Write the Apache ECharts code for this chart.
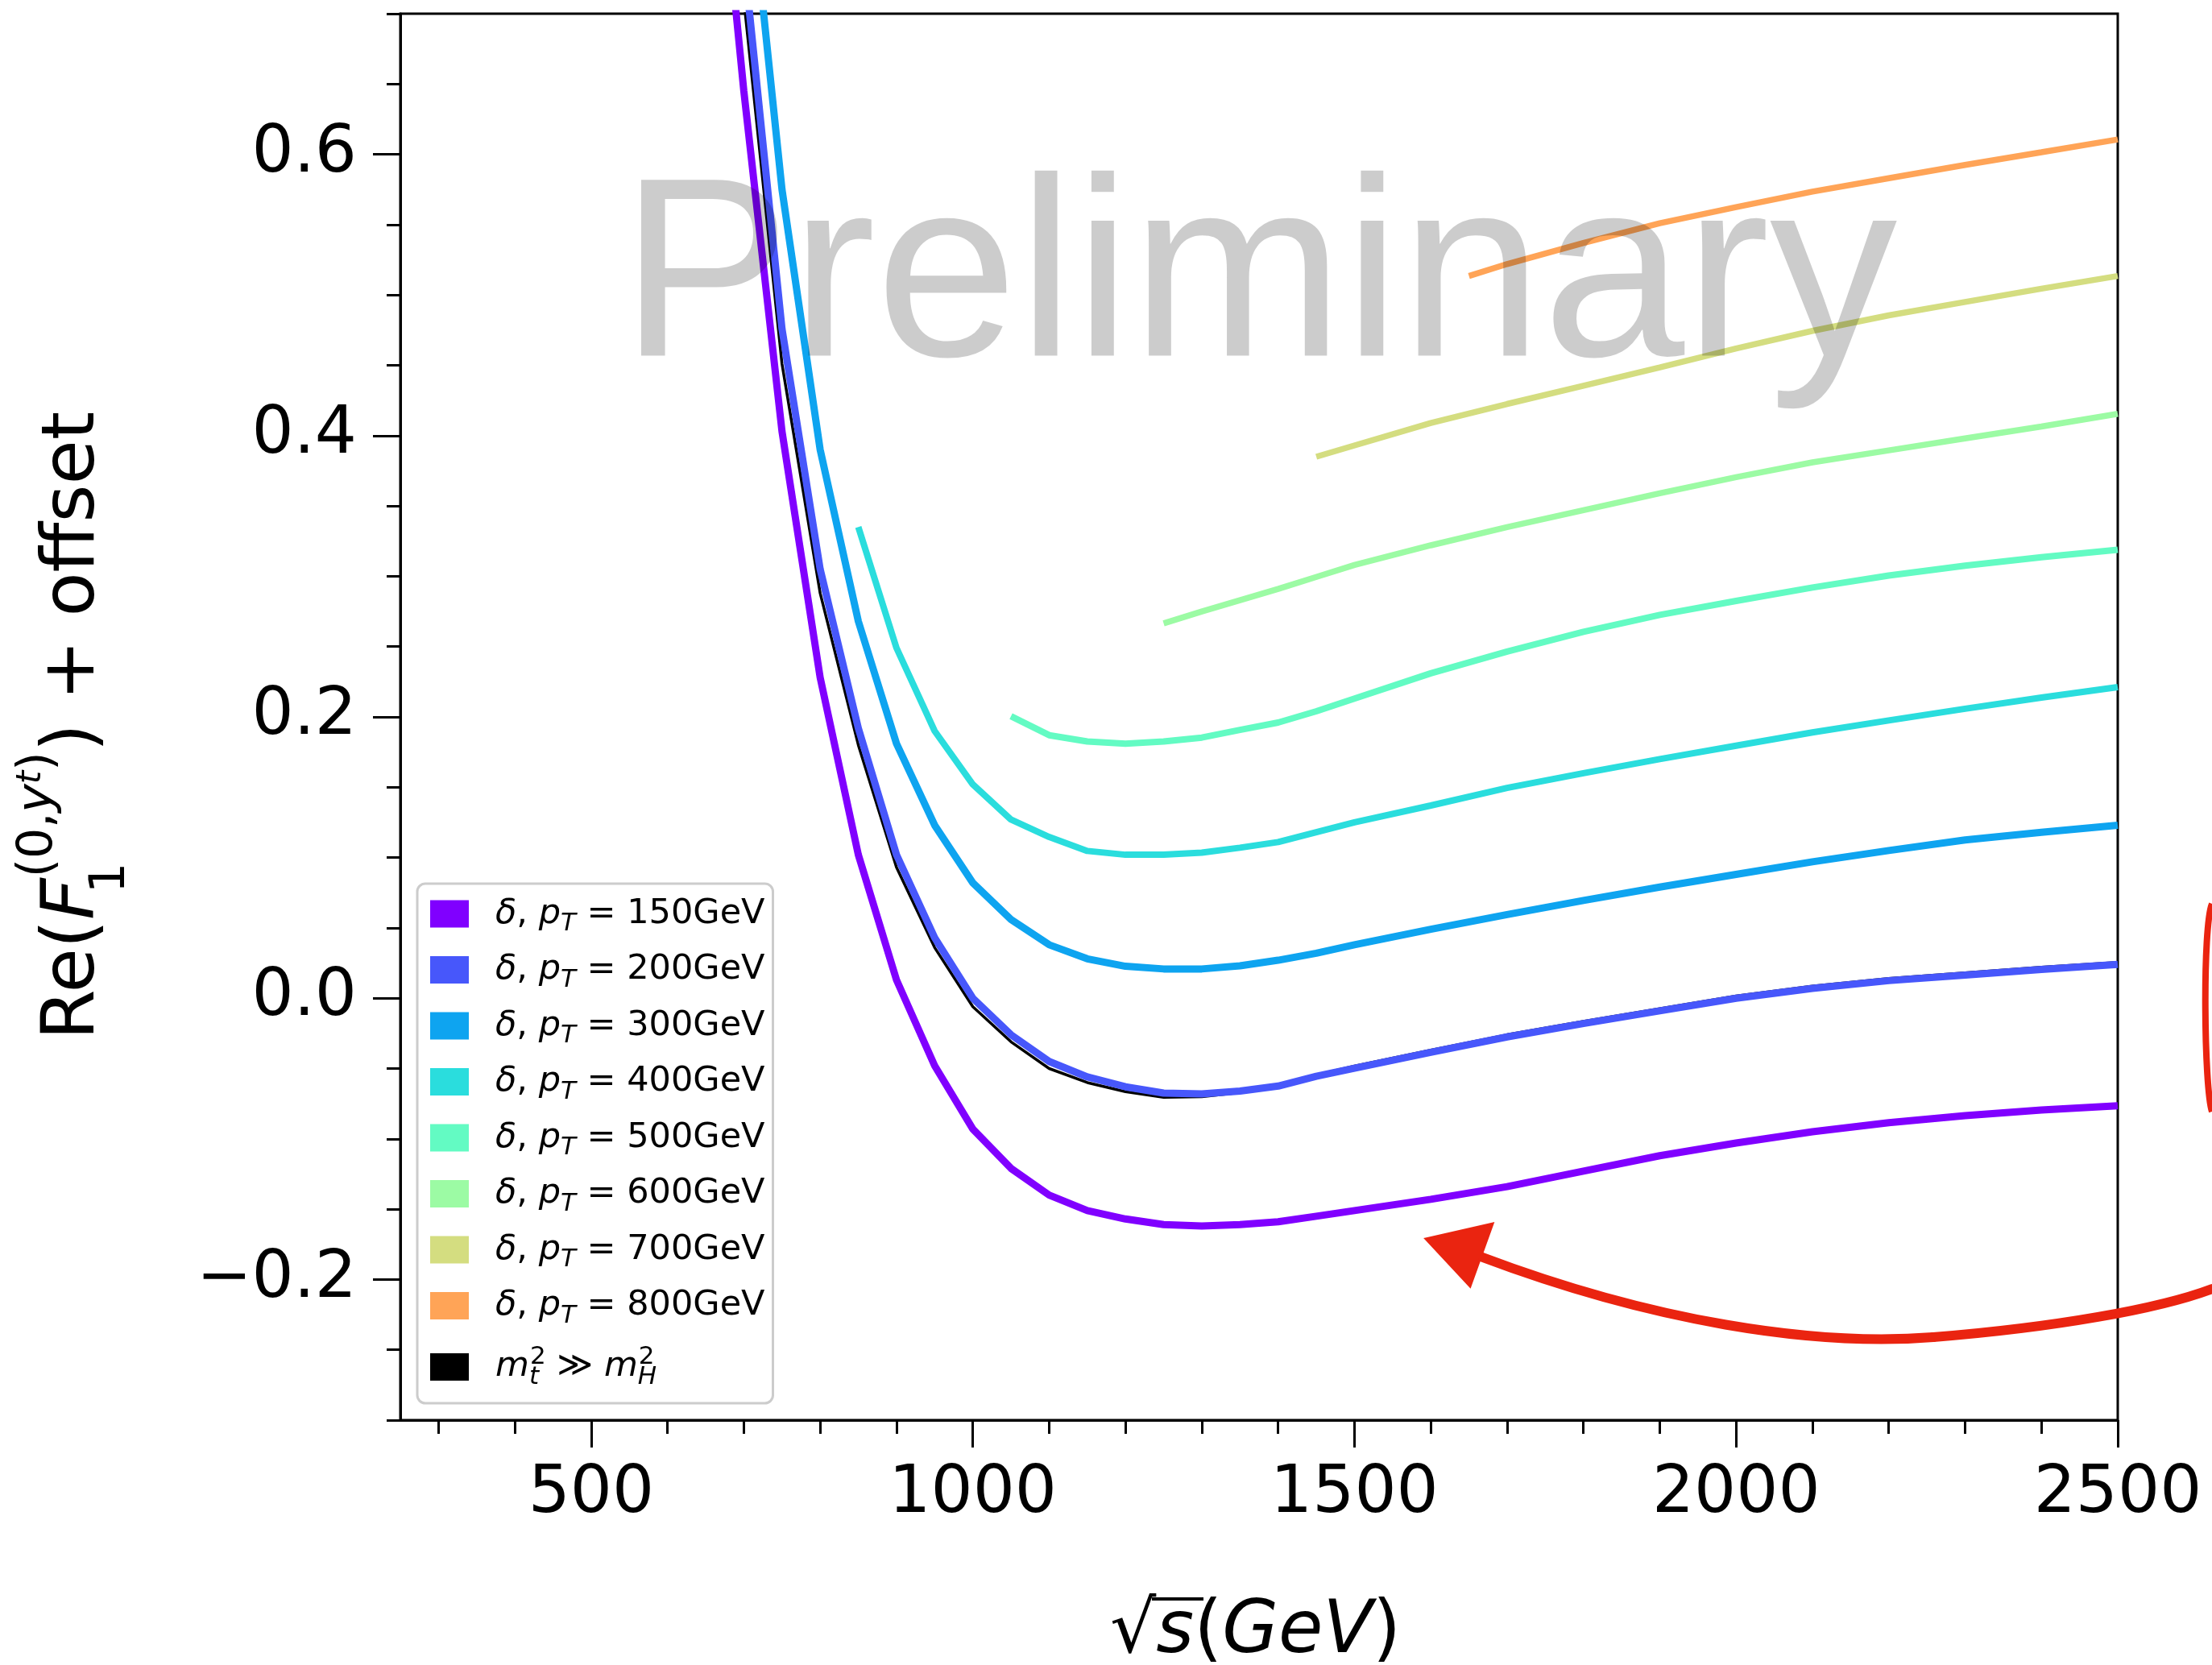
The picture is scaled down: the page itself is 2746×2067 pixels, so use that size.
<!DOCTYPE html>
<html>
<head>
<meta charset="utf-8">
<script src="https://cdn.jsdelivr.net/npm/echarts@6/dist/echarts.min.js"></script>
<style>
  html, body { margin: 0; padding: 0; background: #fff; }
  #chart { width: 2746px; height: 2067px; }
</style>
</head>
<body>
<div id="chart"></div>
<script>
// sqrt(s) [GeV] and Re(F1) + offset
const s150 = [650, 700, 750, 800, 850, 900, 950, 1000, 1050, 1100, 1150, 1200, 1250, 1300, 1350, 1400, 1450, 1500, 1600, 1700, 1800, 1900, 2000, 2100, 2200, 2300, 2400, 2500];
const f150 = [0.92, 0.645, 0.403, 0.228, 0.102, 0.013, -0.048, -0.093, -0.121, -0.140, -0.151, -0.157, -0.161, -0.162, -0.161, -0.159, -0.155, -0.151, -0.143, -0.134, -0.123, -0.112, -0.103, -0.095, -0.0885, -0.0835, -0.0795, -0.0765];

const s200 = [700, 750, 800, 850, 900, 950, 1000, 1050, 1100, 1150, 1200, 1250, 1300, 1350, 1400, 1450, 1500, 1600, 1700, 1800, 1900, 2000, 2100, 2200, 2300, 2400, 2500];
const f200 = [0.74, 0.476, 0.305, 0.192, 0.102, 0.043, 0.000, -0.026, -0.045, -0.056, -0.063, -0.0675, -0.068, -0.066, -0.0625, -0.0555, -0.0498, -0.0385, -0.0275, -0.018, -0.009, 0.000, 0.007, 0.0125, 0.0165, 0.0205, 0.024];

// m_t^2 >> m_H^2 limit
const sHeavy = s200;
const fHeavy = [0.71, 0.451, 0.288, 0.180, 0.093, 0.036, -0.006, -0.031, -0.050, -0.060, -0.0665, -0.0705, -0.070, -0.067, -0.0625, -0.0545, -0.0483, -0.037, -0.026, -0.0165, -0.0075, 0.0015, 0.0085, 0.014, 0.018, 0.022, 0.0255];

const s300 = s200;
const f300 = [0.835, 0.575, 0.39, 0.268, 0.181, 0.123, 0.082, 0.056, 0.038, 0.028, 0.0227, 0.0208, 0.0208, 0.023, 0.027, 0.032, 0.038, 0.049, 0.0595, 0.0695, 0.079, 0.088, 0.097, 0.105, 0.1125, 0.118, 0.123];

const s400 = [850, 900, 950, 1000, 1050, 1100, 1150, 1200, 1250, 1300, 1350, 1400, 1450, 1500, 1600, 1700, 1800, 1900, 2000, 2100, 2200, 2300, 2400, 2500];
const f400 = [0.335, 0.249, 0.190, 0.152, 0.127, 0.1146, 0.1047, 0.102, 0.102, 0.1035, 0.107, 0.111, 0.118, 0.125, 0.137, 0.1495, 0.160, 0.170, 0.1795, 0.189, 0.1975, 0.2058, 0.2137, 0.2212];

const s500 = [1050, 1100, 1150, 1200, 1250, 1300, 1350, 1400, 1450, 1500, 1600, 1700, 1800, 1900, 2000, 2100, 2200, 2300, 2400, 2500];
const f500 = [0.2005, 0.187, 0.1825, 0.181, 0.1825, 0.1853, 0.1908, 0.196, 0.204, 0.213, 0.231, 0.2465, 0.2605, 0.2725, 0.2825, 0.292, 0.3005, 0.3075, 0.3135, 0.3188];

const s600 = [1250, 1300, 1350, 1400, 1450, 1500, 1600, 1700, 1800, 1900, 2000, 2100, 2200, 2300, 2400, 2500];
const f600 = [0.2665, 0.275, 0.283, 0.291, 0.2995, 0.308, 0.322, 0.335, 0.347, 0.359, 0.3705, 0.381, 0.3895, 0.398, 0.4065, 0.4155];

const s700 = [1450, 1500, 1600, 1700, 1800, 1900, 2000, 2100, 2200, 2300, 2400, 2500];
const f700 = [0.385, 0.393, 0.409, 0.4225, 0.4355, 0.4485, 0.462, 0.4745, 0.4855, 0.495, 0.5045, 0.5135];

const s800 = [1650, 1700, 1800, 1900, 2000, 2100, 2200, 2300, 2400, 2500];
const f800 = [0.5135, 0.522, 0.537, 0.551, 0.5625, 0.5735, 0.583, 0.5925, 0.6015, 0.6106];

// pT values for the legend
const ptValues = [150, 200, 300, 400, 500, 600, 700, 800];

// axis ticks
const xMajorTicks = [500, 1000, 1500, 2000, 2500];
const xMinorTicks = [300, 400, 500, 600, 700, 800, 900, 1000, 1100, 1200, 1300, 1400, 1500, 1600, 1700, 1800, 1900, 2000, 2100, 2200, 2300, 2400, 2500];
const yMajorTicks = [-0.2, 0.0, 0.2, 0.4, 0.6];
const yMinorTicks = [-0.3, -0.25, -0.2, -0.15, -0.1, -0.05, 0, 0.05, 0.1, 0.15, 0.2, 0.25, 0.3, 0.35, 0.4, 0.45, 0.5, 0.55, 0.6, 0.65, 0.7];

const FONT = 'DejaVu Sans';
const RED = '#ea2410';
const chart = echarts.init(document.getElementById('chart'));

function pairs(xs, ys) {
  return xs.map((x, i) => [x, ys[i]]);
}

const curves = [
  {name: 'pT150', xs: s150, ys: f150, color: '#8000ff', width: 9},
  {name: 'pT200', xs: s200, ys: f200, color: '#4757fb', width: 9},
  {name: 'pT300', xs: s300, ys: f300, color: '#0ea4f0', width: 9},
  {name: 'pT400', xs: s400, ys: f400, color: '#2adddd', width: 8},
  {name: 'pT500', xs: s500, ys: f500, color: '#63fbc3', width: 8},
  {name: 'pT600', xs: s600, ys: f600, color: '#9cfba4', width: 7.5},
  {name: 'pT700', xs: s700, ys: f700, color: '#d4dd80', width: 7.5},
  {name: 'pT800', xs: s800, ys: f800, color: '#ffa457', width: 7.5}
];

const series = [{
  name: 'heavyTop',
  type: 'line',
  data: pairs(sHeavy, fHeavy),
  showSymbol: false,
  color: '#000000',
  lineStyle: {color: '#000000', width: 3.5},
  z: 1
}];
curves.forEach(c => {
  series.push({
    name: c.name,
    type: 'line',
    data: pairs(c.xs, c.ys),
    showSymbol: false,
    color: c.color,
    itemStyle: {color: c.color},
    lineStyle: {color: c.color, width: c.width},
    z: 2
  });
});

const axisLine = {show: true, onZero: false, lineStyle: {color: '#000', width: 3}};
const tickStyle = {color: '#000', width: 3};

let option = {
  animation: false,
  backgroundColor: '#fff',
  grid: {
    left: 497, top: 17, right: 117, bottom: 304,
    show: true, borderColor: '#000', borderWidth: 3, backgroundColor: 'transparent'
  },
  xAxis: [
    {
      type: 'value', min: 250, max: 2500, position: 'bottom',
      axisLine: axisLine,
      axisTick: {show: true, length: 17, lineStyle: tickStyle, customValues: xMinorTicks},
      axisLabel: {
        customValues: xMajorTicks, margin: 52, fontSize: 82, fontFamily: FONT, color: '#000',
        formatter: v => String(v)
      },
      splitLine: {show: false}
    },
    {
      type: 'value', min: 250, max: 2500, position: 'bottom',
      axisLine: {show: false, onZero: false},
      axisTick: {show: true, length: 34, lineStyle: tickStyle, customValues: xMajorTicks},
      axisLabel: {show: false},
      splitLine: {show: false}
    }
  ],
  yAxis: [
    {
      type: 'value', min: -0.3, max: 0.7, position: 'left',
      axisLine: axisLine,
      axisTick: {show: true, length: 17, lineStyle: tickStyle, customValues: yMinorTicks},
      axisLabel: {
        customValues: yMajorTicks, margin: 54, fontSize: 82, fontFamily: FONT, color: '#000',
        formatter: v => v.toFixed(1).replace('-', '\u2212')
      },
      splitLine: {show: false}
    },
    {
      type: 'value', min: -0.3, max: 0.7, position: 'left',
      axisLine: {show: false, onZero: false},
      axisTick: {show: true, length: 34, lineStyle: tickStyle, customValues: yMajorTicks},
      axisLabel: {show: false},
      splitLine: {show: false}
    }
  ],
  legend: {
    data: curves.map(c => c.name).concat(['heavyTop']),
    orient: 'vertical',
    left: 518, top: 1097,
    padding: [16, 10, 17, 16],
    itemGap: 20,
    itemWidth: 48, itemHeight: 34,
    icon: 'rect',
    selectedMode: false,
    backgroundColor: 'rgba(255,255,255,0.8)',
    borderColor: '#cccccc', borderWidth: 3, borderRadius: 10,
    itemStyle: {borderWidth: 0},
    formatter: function (name) {
      if (name === 'heavyTop') {
        return '{sp| }{it|m}{subz|t}{sup|2}{n| \u226B }{it|m}{subz|H}{sup|2}';
      }
      let i = curves.findIndex(c => c.name === name);
      return '{sp| }{it|\u03B4}{n|, }{it|p}{sub|T}{n| = ' + ptValues[i] + 'GeV}';
    },
    textStyle: {
      fontFamily: FONT, fontSize: 43, color: '#000',
      rich: {
        sp: {width: 28, fontSize: 43, lineHeight: 56},
        n: {fontFamily: FONT, fontSize: 43, color: '#000', lineHeight: 56},
        it: {fontFamily: FONT, fontStyle: 'italic', fontSize: 43, color: '#000', lineHeight: 56},
        sub: {fontFamily: FONT, fontStyle: 'italic', fontSize: 31, color: '#000', lineHeight: 28, verticalAlign: 'bottom'},
        subz: {fontFamily: FONT, fontStyle: 'italic', fontSize: 31, color: '#000', lineHeight: 28, verticalAlign: 'bottom', width: 1},
        sup: {fontFamily: FONT, fontSize: 31, color: '#000', lineHeight: 28, verticalAlign: 'top'}
      }
    }
  },
  graphic: [
    // y axis title
    {
      type: 'text', x: 93, y: 901, rotation: Math.PI / 2,
      style: {
        text: '{n|Re(}{it|F}{sub1|1}{sup|(0,}{supi|y}{supsub|t}{sup|)}{n|) + offset}',
        align: 'center', verticalAlign: 'middle', textAlign: 'center', textVerticalAlign: 'middle',
        rich: {
          n: {fontFamily: FONT, fontSize: 90, color: '#000', lineHeight: 150},
          it: {fontFamily: FONT, fontStyle: 'italic', fontSize: 90, color: '#000', lineHeight: 150},
          sub1: {fontFamily: FONT, fontSize: 60, color: '#000', lineHeight: 99, verticalAlign: 'bottom', width: 1},
          sup: {fontFamily: FONT, fontSize: 60, color: '#000', lineHeight: 84, verticalAlign: 'top'},
          supi: {fontFamily: FONT, fontStyle: 'italic', fontSize: 60, color: '#000', lineHeight: 84, verticalAlign: 'top'},
          supsub: {fontFamily: FONT, fontStyle: 'italic', fontSize: 42, color: '#000', lineHeight: 124, verticalAlign: 'top'}
        }
      }
    },
    // x axis title
    {
      type: 'text', x: 1378, y: 2028,
      style: {
        text: '{n|\u221A}{it|s}{n|(}{it|GeV}{n|)}',
        align: 'left', verticalAlign: 'middle', textAlign: 'left', textVerticalAlign: 'middle',
        rich: {
          n: {fontFamily: FONT, fontSize: 90, color: '#000', lineHeight: 100},
          it: {fontFamily: FONT, fontStyle: 'italic', fontSize: 90, color: '#000', lineHeight: 100}
        }
      }
    },
    {
      type: 'line', shape: {x1: 1430, y1: 1985, x2: 1494, y2: 1985},
      style: {stroke: '#000', lineWidth: 4}
    },
    // watermark
    {
      type: 'text', x: 770, y: 354, z: 100,
      style: {
        text: 'Preliminary', fill: 'rgba(0,0,0,0.2)',
        font: '317px "Liberation Sans"',
        align: 'left', verticalAlign: 'middle', textAlign: 'left', textVerticalAlign: 'middle'
      }
    },
    // hand drawn red annotation
    {
      type: 'bezierCurve', z: 50,
      shape: {x1: 1838, y1: 1560, cpx1: 2050, cpy1: 1640, cpx2: 2250, cpy2: 1672, x2: 2400, y2: 1660},
      style: {stroke: RED, lineWidth: 12, fill: null, lineCap: 'round'}
    },
    {
      type: 'bezierCurve', z: 50,
      shape: {x1: 2400, y1: 1660, cpx1: 2550, cpy1: 1648, cpx2: 2680, cpy2: 1625, x2: 2746, y2: 1600},
      style: {stroke: RED, lineWidth: 12, fill: null, lineCap: 'round'}
    },
    {
      type: 'polygon', z: 50,
      shape: {points: [[1770, 1538], [1853, 1519], [1825, 1597]]},
      style: {fill: RED, stroke: RED, lineWidth: 3}
    },
    {
      type: 'bezierCurve', z: 50,
      shape: {x1: 2746, y1: 1122, cpx1: 2734, cpy1: 1150, cpx2: 2736, cpy2: 1350, x2: 2746, y2: 1380},
      style: {stroke: RED, lineWidth: 8, fill: null}
    }
  ],
  series: series
};

chart.setOption(option);
</script>
</body>
</html>
